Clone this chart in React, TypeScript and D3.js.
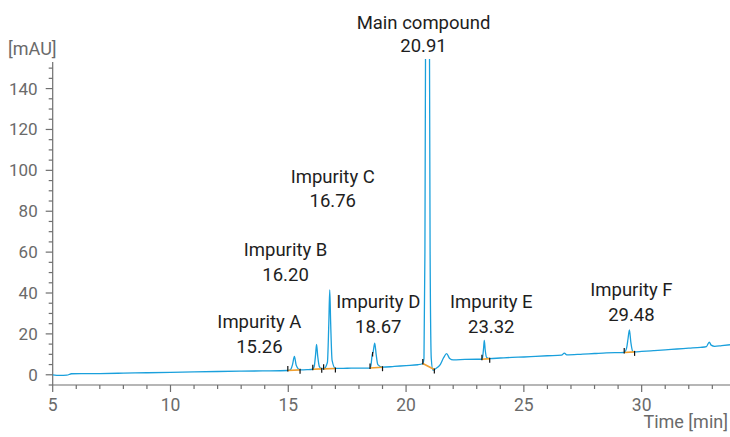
import React from "react";
import * as d3 from "d3";

// ---- data ----
const traceTime = [
  5.0, 5.3, 5.6, 5.8, 7.0, 8.0, 9.0, 10.0, 11.0, 12.0, 13.0, 14.0, 14.98,
  15.1, 15.18, 15.26, 15.34, 15.5, 15.8, 16.04,
  16.1, 16.16, 16.2, 16.25, 16.32, 16.42,
  16.5, 16.66, 16.72, 16.76, 16.8, 16.86, 17.0,
  17.5, 18.0, 18.47,
  18.52, 18.56, 18.6, 18.67, 18.73, 18.8, 19.0,
  19.5, 20.0, 20.5, 20.71,
  20.76, 20.8, 20.85, 20.91, 20.97, 21.02, 21.07, 21.14, 21.2,
  21.45, 21.6, 21.72, 21.85, 22.0, 22.5, 23.0, 23.22,
  23.26, 23.29, 23.32, 23.36, 23.42, 23.55,
  24.0, 24.5, 25.0, 25.5, 26.0, 26.6, 26.72, 26.82, 27.5, 28.0, 28.5, 29.26,
  29.36, 29.42, 29.48, 29.54, 29.62, 29.7,
  30.0, 30.5, 31.0, 31.5, 32.0, 32.5, 32.75, 32.87, 32.95, 33.1, 33.4, 33.75,
];
const traceValue = [
  0.0, -0.3, -0.2, 0.5, 0.6, 0.8, 1.0, 1.2, 1.4, 1.6, 1.8, 1.9, 2.1,
  2.6, 5.0, 9.0, 4.5, 2.4, 2.5, 2.7,
  4.0, 10.0, 14.8, 9.0, 4.0, 2.9,
  2.9, 6.0, 25.0, 41.5, 25.0, 7.0, 3.1,
  3.2, 3.3, 3.3,
  5.5, 9.8, 11.0, 15.5, 10.0, 5.0, 3.7,
  4.1, 4.5, 4.9, 5.5,
  8.0, 60.0, 250.0, 600.0, 250.0, 60.0, 8.0, 2.2, 2.6,
  5.0, 8.5, 10.3, 8.0, 7.3, 7.5, 7.6, 7.6,
  9.5, 13.0, 16.8, 12.0, 8.5, 7.9,
  8.2, 8.5, 8.7, 9.0, 9.3, 9.6, 10.6, 9.7, 10.1, 10.4, 10.7, 10.9,
  13.0, 17.5, 22.0, 16.0, 11.5, 11.2,
  11.4, 11.8, 12.2, 12.6, 13.0, 13.4, 13.8, 16.0, 14.5, 13.9, 14.3, 14.7,
];

const peakNames = ["Impurity A", "Impurity B", "Impurity C", "Impurity D", "Main compound", "Impurity E", "Impurity F"];
const peakRT = [15.26, 16.2, 16.76, 18.67, 20.91, 23.32, 29.48];
const peakRTLabels = ["15.26", "16.20", "16.76", "18.67", "20.91", "23.32", "29.48"];

// integration baselines: start/end time and signal value
const intStartTime = [14.98, 16.04, 16.5, 18.47, 20.71, 23.22, 29.26];
const intStartValue = [2.1, 2.7, 2.9, 3.3, 5.5, 7.6, 10.9];
const intEndTime = [15.5, 16.42, 17.0, 19.0, 21.2, 23.55, 29.7];
const intEndValue = [2.4, 2.9, 3.1, 3.7, 2.6, 7.9, 11.2];
const splitTime = [18.58];
const splitValue = [10.2];

const xTicks = [5, 10, 15, 20, 25, 30];
const yTicks = [0, 20, 40, 60, 80, 100, 120, 140];

// ---- layout ----
const W = 730;
const H = 437;
const labelLayout = [
  { dx: -35, y1: 327.7, y2: 352.7 },
  { dx: -31, y1: 255.7, y2: 280.7 },
  { dx: 3, y1: 183.3, y2: 206.7 },
  { dx: 3.5, y1: 308.3, y2: 332.7 },
  { dx: -4, y1: 28.5, y2: 52 },
  { dx: 7, y1: 308.3, y2: 332.7 },
  { dx: 2, y1: 296.3, y2: 320.7 },
];

const FONT = "Roboto, 'Liberation Sans', sans-serif";
const AXIS = "#6f6f6f";
const TICKTXT = "#6a6a6a";
const TRACE = "#1aa0dc";
const ORANGE = "#f0a030";

export default function App() {
  const x = d3.scaleLinear().domain([5, 33.75]).range([52.7, 730]);
  const y = d3.scaleLinear().domain([-5, 153]).range([385, 62]);
  const pts: [number, number][] = traceTime.map((t, i) => [t, traceValue[i]]);
  const line = d3
    .line<[number, number]>()
    .x((d) => x(d[0]))
    .y((d) => y(d[1]))
    .curve(d3.curveMonotoneX);

  const xMinor = d3.range(5, 34, 1).filter((v) => !xTicks.includes(v));
  const yMinor = d3.range(-5, 151, 5).filter((v) => !yTicks.includes(v));
  const x0 = x(5);
  const yBase = y(-5);

  return (
    <div style={{ position: "fixed", left: 0, top: 0, width: W, height: H, background: "#fff" }}>
      <svg width={W} height={H} style={{ display: "block" }} fontFamily={FONT}>
        <defs>
          <clipPath id="plotclip">
            <rect x={x0} y={59} width={W - x0} height={yBase - 59} />
          </clipPath>
        </defs>
        {/* axes */}
        <line x1={x0} x2={x0} y1={y(153)} y2={yBase} stroke={AXIS} strokeWidth={1.2} />
        <line x1={x0} x2={W} y1={yBase} y2={yBase} stroke={AXIS} strokeWidth={1.2} />
        {yTicks.map((v) => (
          <g key={"yt" + v}>
            <line x1={x0 - 7} x2={x0} y1={y(v)} y2={y(v)} stroke={AXIS} strokeWidth={1.2} />
            <text x={x0 - 15} y={y(v) + 6} textAnchor="end" fontSize={17} fill={TICKTXT}>
              {v}
            </text>
          </g>
        ))}
        {yMinor.map((v) => (
          <line key={"ym" + v} x1={x0 - 4} x2={x0} y1={y(v)} y2={y(v)} stroke={AXIS} strokeWidth={1.2} />
        ))}
        {xTicks.map((v) => (
          <g key={"xt" + v}>
            <line x1={x(v)} x2={x(v)} y1={yBase} y2={yBase + 7} stroke={AXIS} strokeWidth={1.2} />
            <text x={x(v)} y={410.5} textAnchor="middle" fontSize={17.5} fill={TICKTXT}>
              {v}
            </text>
          </g>
        ))}
        {xMinor.map((v) => (
          <line key={"xm" + v} x1={x(v)} x2={x(v)} y1={yBase} y2={yBase + 4} stroke={AXIS} strokeWidth={1.2} />
        ))}
        <text x={8} y={55} fontSize={18} fill={TICKTXT}>
          [mAU]
        </text>
        <text x={728} y={428} textAnchor="end" fontSize={18} fill={TICKTXT}>
          Time [min]
        </text>

        {/* trace */}
        <g clipPath="url(#plotclip)">
          <path d={line(pts) || ""} fill="none" stroke={TRACE} strokeWidth={1.3} strokeLinejoin="round" />
        </g>

        {/* integration baselines */}
        {intStartTime.map((t, i) => (
          <g key={"int" + i}>
            <line
              x1={x(t)}
              y1={y(intStartValue[i])}
              x2={x(intEndTime[i])}
              y2={y(intEndValue[i])}
              stroke={ORANGE}
              strokeWidth={1.6}
            />
            <line x1={x(t)} x2={x(t)} y1={y(intStartValue[i]) - 4.5} y2={y(intStartValue[i]) + 1} stroke="#111" strokeWidth={1.2} />
            <line
              x1={x(intEndTime[i])}
              x2={x(intEndTime[i])}
              y1={y(intEndValue[i]) - 1}
              y2={y(intEndValue[i]) + 4}
              stroke="#111"
              strokeWidth={1.2}
            />
          </g>
        ))}
        {splitTime.map((t, i) => (
          <line key={"sp" + i} x1={x(t)} x2={x(t)} y1={y(splitValue[i]) - 2} y2={y(splitValue[i]) + 2.5} stroke="#111" strokeWidth={1.2} />
        ))}

        {/* labels */}
        {peakNames.map((n, i) => {
          const cx = x(peakRT[i]) + labelLayout[i].dx;
          return (
            <g key={"lab" + i} fill="#1e1e1e" fontSize={18.5} textAnchor="middle">
              <text x={cx} y={labelLayout[i].y1}>{n}</text>
              <text x={cx} y={labelLayout[i].y2}>{peakRTLabels[i]}</text>
            </g>
          );
        })}
      </svg>
    </div>
  );
}
